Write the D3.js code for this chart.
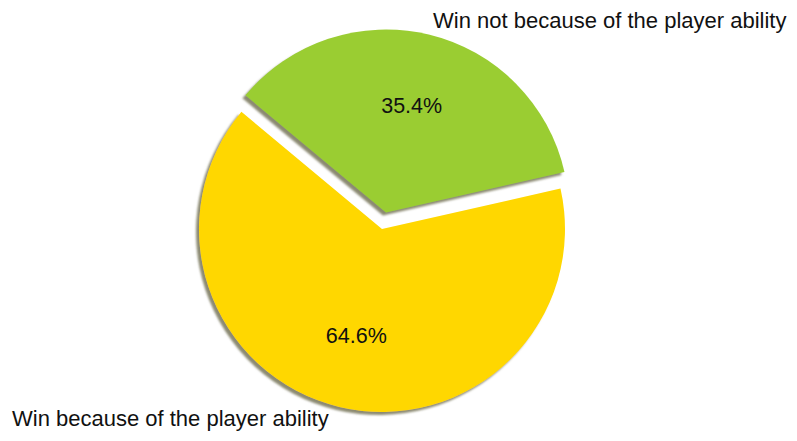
<!DOCTYPE html>
<html>
<head>
<meta charset="utf-8">
<script src="https://cdn.jsdelivr.net/npm/d3@7"></script>
<style>
  html, body { margin: 0; padding: 0; background: #fff; }
  svg { display: block; }
  text { font-family: "Liberation Sans", Arial, sans-serif; fill: #111; }
</style>
</head>
<body>
<svg id="chart" width="797" height="441"></svg>
<script>
// Share of wins, by reason
const categories = ["Win not because of the player ability", "Win because of the player ability"];
const values = [35.4, 64.6];
const colors = ["#9ACD32", "#FFD700"];
const explode = [17, 0];

const width = 797, height = 441;
const cx = 382, cy = 229, radius = 183;
const startDeg = -50.2;

const svg = d3.select("#chart");

const defs = svg.append("defs");
const shadow = defs.append("filter").attr("id", "shadow")
  .attr("x", "-10%").attr("y", "-10%").attr("width", "120%").attr("height", "120%");
shadow.append("feGaussianBlur").attr("in", "SourceAlpha").attr("stdDeviation", 1.2).attr("result", "b");
shadow.append("feOffset").attr("in", "b").attr("dx", -3).attr("dy", 3).attr("result", "o");
shadow.append("feFlood").attr("flood-color", "#7f7d62").attr("flood-opacity", 0.9);
shadow.append("feComposite").attr("in2", "o").attr("operator", "in").attr("result", "s");
const merge = shadow.append("feMerge");
merge.append("feMergeNode").attr("in", "s");
merge.append("feMergeNode").attr("in", "SourceGraphic");

const pie = d3.pie().sort(null)
  .startAngle(startDeg * Math.PI / 180)
  .endAngle((startDeg + 360) * Math.PI / 180);
const arcs = pie(values);

const arc = d3.arc().innerRadius(0).outerRadius(radius);
const labelArc = d3.arc().innerRadius(110).outerRadius(110);

const g = svg.append("g").attr("transform", `translate(${cx},${cy})`);

const slices = g.selectAll("g.slice").data(arcs).join("g")
  .attr("class", "slice")
  .attr("transform", (d, i) => {
    const mid = (d.startAngle + d.endAngle) / 2;
    return `translate(${Math.sin(mid) * explode[i]},${-Math.cos(mid) * explode[i]})`;
  });

slices.append("path")
  .attr("d", arc)
  .attr("fill", (d, i) => colors[i])
  .attr("filter", "url(#shadow)");

slices.append("text")
  .attr("transform", d => `translate(${labelArc.centroid(d)})`)
  .attr("text-anchor", "middle")
  .attr("dy", "0.35em")
  .style("font-size", "21.5px")
  .text(d => d.value.toFixed(1) + "%");

// Category labels
svg.append("text")
  .attr("x", 433).attr("y", 28)
  .style("font-size", "22px")
  .text(categories[0]);

svg.append("text")
  .attr("x", 12).attr("y", 426)
  .style("font-size", "22px")
  .text(categories[1]);
</script>
</body>
</html>
